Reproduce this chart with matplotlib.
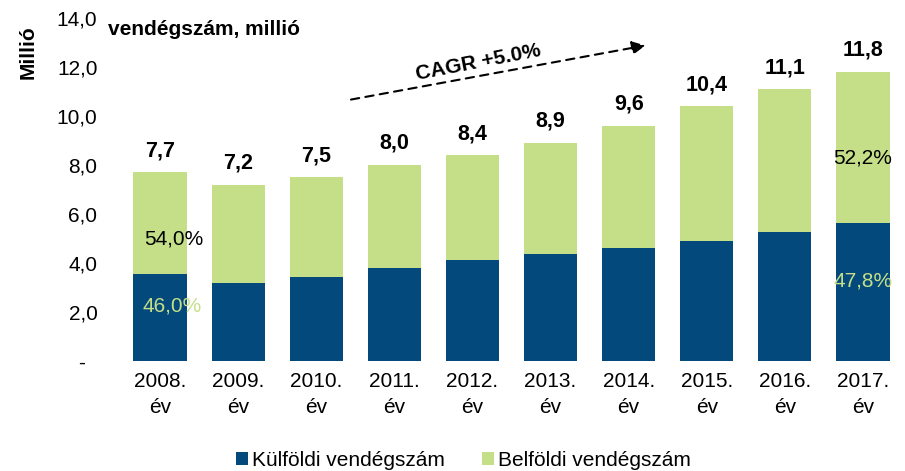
import matplotlib.pyplot as plt
import numpy as np

plt.rcParams['font.family'] = ['Liberation Sans', 'DejaVu Sans']

# data
years = ['2008.', '2009.', '2010.', '2011.', '2012.', '2013.', '2014.', '2015.', '2016.', '2017.']
totals = [7.7, 7.2, 7.5, 8.0, 8.4, 8.9, 9.6, 10.4, 11.1, 11.8]
foreign = [3.54, 3.18, 3.43, 3.80, 4.12, 4.37, 4.61, 4.90, 5.27, 5.64]
domestic = [t - f for t, f in zip(totals, foreign)]
share_first = ['46,0%', '54,0%']
share_last = ['47,8%', '52,2%']

blue = '#03497b'
green = '#c4df88'
fs = 15

fig = plt.figure(figsize=(9.05, 4.71), dpi=100)
ax = fig.add_axes([0.1337, 0.2335, 0.863, 0.7283])

x = np.arange(len(years))
w = 0.68
ax.bar(x, foreign, w, color=blue, label='Külföldi vendégszám', zorder=2)
ax.bar(x, domestic, w, bottom=foreign, color=green, label='Belföldi vendégszám', zorder=2)

# value labels
for i, t in enumerate(totals):
    ax.text(x[i], t + 0.45, ('%.1f' % t).replace('.', ','), ha='center', va='bottom',
            fontsize=15.5, fontweight='bold')

# share labels
ax.text(x[0] + 0.16, 2.24, share_first[0], ha='center', va='center', fontsize=fs, color=green)
ax.text(x[0] + 0.18, 5.0, share_first[1], ha='center', va='center', fontsize=fs, color='black')
ax.text(x[-1], 3.27, share_last[0], ha='center', va='center', fontsize=fs, color=green)
ax.text(x[-1], 8.29, share_last[1], ha='center', va='center', fontsize=fs, color='black')

# CAGR arrow
ax.annotate('', xy=(6.25, 12.9), xytext=(2.41, 10.65),
            arrowprops=dict(arrowstyle='-|>', linestyle=(0, (4, 3)), color='black',
                            lw=1.5, mutation_scale=20))
ax.text(4.07, 12.2, 'CAGR +5.0%', ha='center', va='center', fontsize=fs,
        fontweight='bold', rotation=11)

ax.set_xlim(-0.5, len(years) - 0.5)
ax.set_ylim(0, 14)
ax.set_yticks(np.arange(0, 15, 2))
ax.set_yticklabels(['-  '] + [('%.1f' % v).replace('.', ',') for v in np.arange(2, 15, 2)], fontsize=fs)
ax.set_xticks(x)
ax.set_xticklabels([y + '\név' for y in years], fontsize=fs, linespacing=1.45)
ax.tick_params(length=0)
ax.tick_params(axis='x', pad=8)
ax.tick_params(axis='y', pad=17)
for s in ax.spines.values():
    s.set_visible(False)

fig.text(0.119, 0.938, 'vendégszám, millió', fontsize=fs, fontweight='bold', ha='left', va='center')
fig.text(0.031, 0.89, 'Millió', fontsize=fs, fontweight='bold', rotation=90, ha='center', va='center')

ax.legend(loc='center', bbox_to_anchor=(0.4385, -0.289), ncol=2, frameon=False,
          fontsize=fs, handlelength=0.55, handleheight=0.55, handletextpad=0.2,
          columnspacing=1.8)

fig.savefig('out.png', dpi=100)
